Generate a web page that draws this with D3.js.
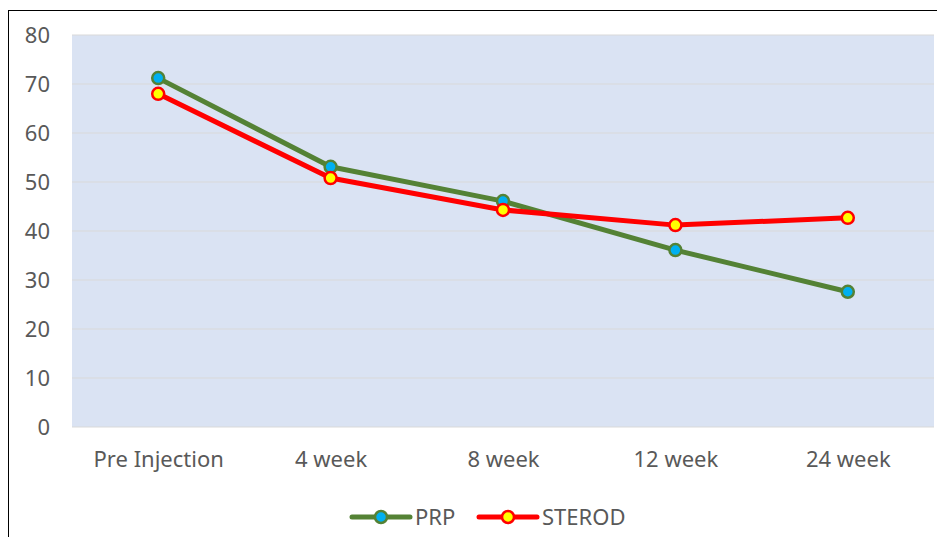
<!DOCTYPE html>
<html>
<head>
<meta charset="utf-8">
<script src="https://cdn.jsdelivr.net/npm/d3@7"></script>
<style>
  body { margin: 0; background: #fff; }
  svg text { font-family: "Noto Sans", "Open Sans", sans-serif; fill: #595959; }
</style>
</head>
<body>
<div id="chart"></div>
<script>
const categories = ["Pre Injection", "4 week", "8 week", "12 week", "24 week"];
const prpValues = [71.2, 53.1, 46.1, 36.1, 27.6];
const sterodValues = [68.0, 50.8, 44.3, 41.2, 42.7];
const yTicks = [0, 10, 20, 30, 40, 50, 60, 70, 80];

const width = 937, height = 537;
const plot = { left: 72, right: 934, top: 35, bottom: 427 };

const series = [
  { name: "PRP", values: prpValues, line: "#548235", fill: "#00b0f0" },
  { name: "STEROD", values: sterodValues, line: "#ff0000", fill: "#ffff00" },
];

const svg = d3.select("#chart").append("svg")
  .attr("width", width).attr("height", height);

// outer frame
svg.append("rect")
  .attr("x", 8.5).attr("y", 10.5)
  .attr("width", width + 10).attr("height", height + 10)
  .attr("fill", "none").attr("stroke", "#000").attr("stroke-width", 1);

const x = d3.scalePoint().domain(categories)
  .range([plot.left, plot.right]).padding(0.5);
const y = d3.scaleLinear().domain([0, 80]).range([plot.bottom, plot.top]);

svg.append("rect")
  .attr("x", plot.left).attr("y", plot.top)
  .attr("width", plot.right - plot.left).attr("height", plot.bottom - plot.top)
  .attr("fill", "#dae3f3");

// gridlines
svg.append("g").selectAll("line").data(yTicks).join("line")
  .attr("x1", plot.left).attr("x2", plot.right)
  .attr("y1", d => y(d)).attr("y2", d => y(d))
  .attr("stroke", "#d9d9d9").attr("stroke-width", 1);

// y axis labels
const yAxis = svg.append("g")
  .attr("transform", `translate(${plot.left - 22},0)`)
  .call(d3.axisLeft(y).tickValues(yTicks).tickSize(0).tickPadding(0));
yAxis.select(".domain").remove();
yAxis.selectAll("text")
  .attr("font-size", 22).attr("dy", "0.35em").attr("fill", "#595959");

// x axis labels
const xAxis = svg.append("g")
  .attr("transform", `translate(0,${plot.bottom})`)
  .call(d3.axisBottom(x).tickSize(0).tickPadding(24));
xAxis.select(".domain").remove();
xAxis.selectAll("text").attr("font-size", 22).attr("fill", "#595959");

const line = d3.line().x((d, i) => x(categories[i])).y(d => y(d));

series.forEach(s => {
  const g = svg.append("g");
  g.append("path").datum(s.values)
    .attr("d", line)
    .attr("fill", "none").attr("stroke", s.line)
    .attr("stroke-width", 5).attr("stroke-linejoin", "round");
  g.selectAll("circle").data(s.values).join("circle")
    .attr("cx", (d, i) => x(categories[i])).attr("cy", d => y(d))
    .attr("r", 6).attr("fill", s.fill)
    .attr("stroke", s.line).attr("stroke-width", 2.5);
});

// legend
const legend = svg.append("g").attr("transform", "translate(352,517)");
const legendX = [0, 127];
series.forEach((s, i) => {
  const g = legend.append("g").attr("transform", `translate(${legendX[i]},0)`);
  g.append("line").attr("x1", 0).attr("x2", 58)
    .attr("stroke", s.line).attr("stroke-width", 5).attr("stroke-linecap", "round");
  g.append("circle").attr("cx", 29).attr("r", 6)
    .attr("fill", s.fill).attr("stroke", s.line).attr("stroke-width", 2.5);
  g.append("text").attr("x", 63).attr("dy", "0.35em")
    .attr("font-size", 22).text(s.name);
});
</script>
</body>
</html>
